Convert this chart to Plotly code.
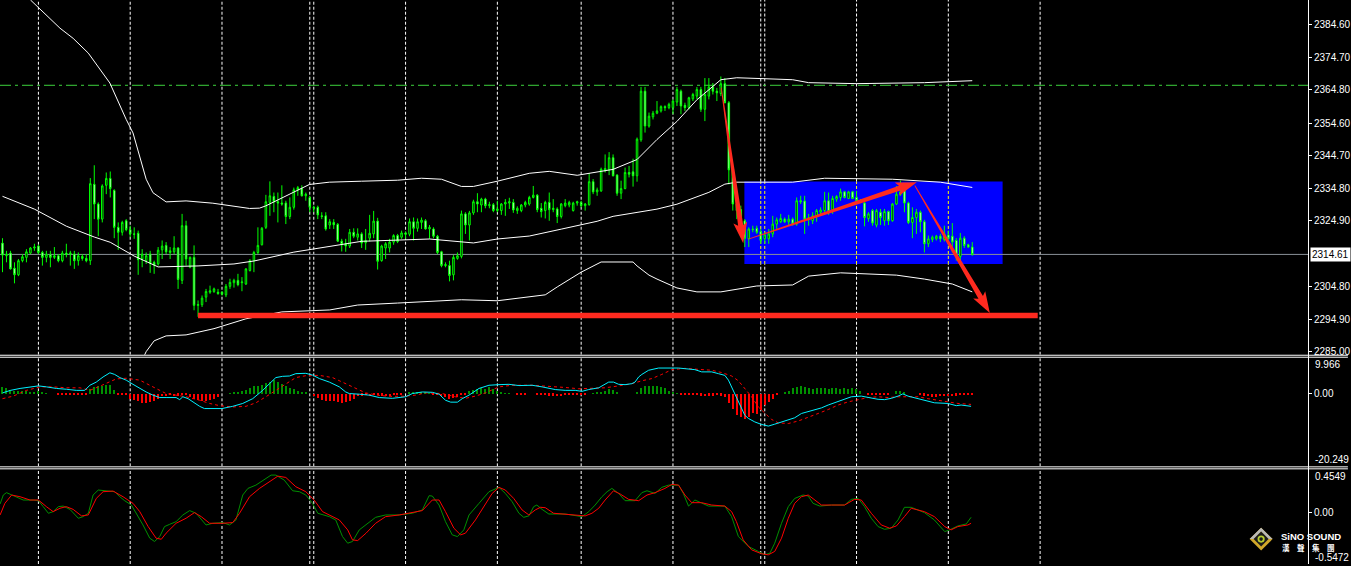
import math
import plotly.graph_objects as go

# ---------------- price candles (bar index = position) ----------------
opens = [
 2318.05, 2314.2, 2315.0, 2310.4, 2308.4, 2312.7, 2313.7, 2315.0, 2316.55, 2317.15,
 2315.2, 2313.7, 2314.5, 2313.7, 2314.2, 2312.7, 2315.0, 2314.7, 2314.7, 2312.7,
 2314.0, 2313.4, 2312.7, 2335.95, 2329.95, 2325.35, 2335.65, 2337.75, 2334.05, 2322.85,
 2321.35, 2324.85, 2322.15, 2320.85, 2321.05, 2313.2, 2312.7, 2314.7, 2312.2, 2311.7,
 2316.0, 2317.35, 2315.2, 2315.4, 2316.55, 2306.7, 2323.35, 2310.7, 2313.7, 2299.1,
 2299.3, 2301.6, 2303.1, 2303.3, 2303.1, 2303.1, 2302.3, 2304.9, 2306.0, 2306.7,
 2306.0, 2305.6, 2309.7, 2312.7, 2315.2, 2317.55, 2322.85, 2330.45, 2332.25, 2330.65,
 2330.25, 2330.25, 2326.15, 2328.95, 2334.25, 2334.65, 2332.45, 2331.95, 2328.95, 2328.95,
 2326.35, 2326.35, 2323.55, 2324.35, 2323.75, 2318.65, 2317.85, 2317.15, 2321.35, 2319.85,
 2320.85, 2318.15, 2319.55, 2320.85, 2324.75, 2312.7, 2316.55, 2316.55, 2318.35, 2320.35,
 2319.85, 2321.15, 2320.75, 2324.55, 2322.55, 2324.35, 2324.85, 2322.35, 2322.35, 2320.15,
 2315.4, 2311.2, 2311.2, 2308.4, 2313.4, 2314.0, 2326.95, 2323.55, 2327.25, 2330.65,
 2329.65, 2331.45, 2329.45, 2329.75, 2327.95, 2327.95, 2329.95, 2330.25, 2330.45, 2327.95,
 2327.95, 2329.65, 2329.95, 2331.95, 2332.65, 2328.65, 2327.95, 2330.45, 2328.25, 2328.45,
 2326.15, 2329.45, 2329.65, 2327.95, 2330.25, 2330.45, 2329.45, 2329.75, 2336.75, 2333.65,
 2333.95, 2340.05, 2340.35, 2344.05, 2338.75, 2333.25, 2334.65, 2339.55, 2339.75, 2338.55,
 2349.5, 2364.3, 2353.7, 2356.5, 2357.6, 2358.3, 2359.6, 2359.3, 2359.3, 2361.0,
 2364.3, 2360.0, 2359.3, 2362.0, 2362.8, 2364.8, 2358.8, 2362.8, 2365.6, 2364.3,
 2363.6, 2366.6, 2360.8, 2340.55, 2329.95, 2328.25, 2324.85, 2319.35, 2322.35, 2322.55,
 2321.55, 2319.35, 2319.35, 2320.85, 2323.85, 2324.55, 2325.35, 2324.55, 2325.35, 2323.85,
 2330.95, 2330.85, 2325.35, 2324.85, 2326.15, 2327.45, 2327.95, 2330.95, 2327.65, 2331.45,
 2331.95, 2333.65, 2331.65, 2333.65, 2331.95, 2330.95, 2330.25, 2325.55, 2327.95, 2323.55,
 2327.45, 2324.85, 2327.65, 2324.85, 2329.95, 2332.85, 2335.25, 2330.25, 2324.35, 2325.85,
 2327.45, 2324.55, 2317.85, 2319.15, 2319.35, 2320.15, 2319.15, 2320.55, 2320.15, 2318.85,
 2314.0, 2319.55, 2317.55, 2316.85]

highs = [
 2319.55, 2315.7, 2315.7, 2312.2, 2313.2, 2314.7, 2316.2, 2316.85, 2317.85, 2317.55,
 2315.7, 2315.7, 2315.7, 2316.85, 2314.7, 2315.7, 2317.85, 2315.7, 2315.7, 2315.2,
 2314.7, 2314.7, 2337.85, 2341.75, 2330.45, 2335.95, 2339.55, 2339.85, 2334.45, 2324.35,
 2324.85, 2325.35, 2323.35, 2322.85, 2321.85, 2316.2, 2315.2, 2315.7, 2312.7, 2316.85,
 2318.85, 2318.35, 2316.85, 2320.15, 2316.85, 2326.95, 2324.85, 2314.0, 2317.35, 2300.6,
 2302.1, 2304.1, 2305.1, 2304.5, 2304.1, 2303.4, 2305.6, 2307.2, 2307.2, 2308.7,
 2307.7, 2310.4, 2313.2, 2315.7, 2322.85, 2322.95, 2332.75, 2336.85, 2333.45, 2333.45,
 2335.65, 2330.95, 2331.95, 2334.95, 2335.45, 2335.65, 2333.45, 2332.45, 2329.45, 2329.45,
 2327.45, 2327.45, 2325.35, 2325.35, 2324.15, 2319.35, 2319.35, 2322.35, 2322.55, 2322.55,
 2321.35, 2322.35, 2326.65, 2327.85, 2325.75, 2317.55, 2318.35, 2319.35, 2320.75, 2320.85,
 2321.85, 2321.55, 2325.55, 2325.85, 2325.55, 2325.85, 2325.35, 2323.55, 2322.85, 2320.55,
 2315.7, 2312.2, 2312.7, 2314.4, 2315.2, 2327.95, 2327.45, 2327.85, 2331.25, 2333.25,
 2331.85, 2331.85, 2330.65, 2330.25, 2330.95, 2330.25, 2331.45, 2331.85, 2331.45, 2329.25,
 2329.95, 2330.95, 2332.45, 2335.45, 2332.95, 2330.25, 2330.95, 2333.45, 2331.45, 2328.95,
 2330.25, 2331.45, 2330.95, 2330.65, 2330.95, 2330.95, 2330.25, 2339.35, 2337.55, 2334.95,
 2341.05, 2345.05, 2345.75, 2345.05, 2339.05, 2337.05, 2341.05, 2341.55, 2343.75, 2350.2,
 2365.6, 2365.6, 2357.8, 2358.3, 2361.3, 2360.0, 2360.0, 2360.8, 2361.8, 2365.6,
 2364.8, 2360.8, 2362.6, 2363.8, 2365.6, 2365.6, 2368.3, 2368.3, 2366.8, 2365.3,
 2368.8, 2368.3, 2361.3, 2341.05, 2330.45, 2329.45, 2325.35, 2322.85, 2323.35, 2323.35,
 2322.35, 2321.35, 2322.35, 2326.35, 2325.85, 2326.95, 2325.85, 2326.65, 2325.85, 2331.95,
 2332.45, 2332.45, 2326.95, 2327.45, 2328.45, 2328.95, 2333.65, 2333.45, 2332.45, 2332.65,
 2334.65, 2333.95, 2333.95, 2333.95, 2333.95, 2331.45, 2330.95, 2327.45, 2328.45, 2328.45,
 2328.45, 2328.45, 2327.95, 2330.25, 2335.45, 2337.05, 2335.95, 2330.65, 2328.95, 2328.45,
 2327.95, 2325.15, 2320.35, 2320.35, 2320.55, 2320.85, 2323.35, 2321.85, 2324.15, 2319.55,
 2321.15, 2320.15, 2317.85, 2318.35]

lows = [
 2309.2, 2312.2, 2310.0, 2305.8, 2308.0, 2312.2, 2312.2, 2314.7, 2315.7, 2314.7,
 2311.2, 2312.2, 2310.7, 2313.2, 2312.2, 2312.2, 2313.7, 2311.2, 2310.2, 2311.2,
 2312.7, 2312.2, 2311.4, 2325.35, 2320.15, 2324.35, 2332.95, 2331.95, 2319.55, 2316.0,
 2320.35, 2321.65, 2319.85, 2319.35, 2308.4, 2310.7, 2311.7, 2309.0, 2308.7, 2311.2,
 2313.2, 2314.7, 2313.2, 2314.7, 2304.1, 2305.6, 2311.2, 2310.4, 2297.6, 2295.6,
 2298.6, 2300.1, 2302.6, 2302.9, 2302.3, 2302.1, 2301.6, 2304.1, 2304.5, 2304.9,
 2303.4, 2305.3, 2309.4, 2309.2, 2314.7, 2317.35, 2322.35, 2326.35, 2327.45, 2324.35,
 2329.45, 2323.85, 2325.35, 2328.25, 2332.45, 2332.25, 2330.95, 2327.45, 2327.45, 2325.35,
 2325.35, 2321.85, 2322.35, 2322.35, 2318.35, 2315.5, 2315.4, 2316.55, 2319.55, 2318.85,
 2316.55, 2316.0, 2318.55, 2319.55, 2310.0, 2312.4, 2313.2, 2315.2, 2317.55, 2318.05,
 2319.35, 2319.35, 2320.15, 2318.85, 2321.55, 2322.35, 2322.15, 2319.35, 2319.55, 2314.7,
 2310.7, 2310.7, 2306.4, 2306.7, 2313.0, 2313.4, 2320.85, 2318.85, 2326.65, 2327.45,
 2327.45, 2328.65, 2328.65, 2327.45, 2327.45, 2326.65, 2326.35, 2328.45, 2327.25, 2326.95,
 2327.45, 2328.95, 2329.45, 2331.65, 2327.45, 2325.85, 2325.55, 2324.85, 2327.45, 2324.15,
 2325.55, 2328.95, 2328.95, 2327.65, 2329.45, 2328.95, 2327.95, 2329.45, 2332.95, 2332.45,
 2333.65, 2339.55, 2338.75, 2338.35, 2332.45, 2331.45, 2334.45, 2338.05, 2335.25, 2336.75,
 2348.9, 2351.7, 2353.2, 2355.7, 2357.3, 2357.8, 2358.3, 2358.8, 2357.3, 2359.8,
 2357.3, 2358.3, 2358.8, 2361.3, 2361.8, 2358.0, 2355.2, 2361.8, 2363.3, 2361.3,
 2362.8, 2360.6, 2335.95, 2327.95, 2325.35, 2323.85, 2316.85, 2316.85, 2321.35, 2320.85,
 2317.85, 2317.85, 2317.85, 2319.85, 2322.35, 2324.15, 2324.15, 2323.35, 2323.35, 2323.35,
 2329.95, 2320.85, 2323.35, 2323.85, 2324.55, 2326.35, 2326.95, 2326.65, 2326.95, 2330.65,
 2330.95, 2331.65, 2331.45, 2331.45, 2330.45, 2330.25, 2323.15, 2324.55, 2323.35, 2322.85,
 2323.55, 2323.35, 2323.55, 2324.55, 2329.65, 2332.45, 2327.45, 2323.85, 2319.55, 2320.85,
 2321.35, 2315.2, 2316.85, 2318.35, 2318.85, 2318.35, 2318.55, 2317.35, 2315.2, 2312.7,
 2312.2, 2316.55, 2316.55, 2314.2]

closes = [
 2314.4, 2314.7, 2310.2, 2308.4, 2312.7, 2313.9, 2315.4, 2316.55, 2316.85, 2315.2,
 2313.7, 2314.7, 2313.7, 2314.2, 2312.7, 2315.0, 2314.6, 2315.0, 2312.7, 2314.2,
 2313.4, 2312.7, 2336.15, 2329.95, 2325.35, 2335.45, 2337.75, 2334.65, 2322.85, 2321.35,
 2324.35, 2322.15, 2320.85, 2320.75, 2313.0, 2314.7, 2314.2, 2312.0, 2311.4, 2315.9,
 2317.15, 2315.4, 2315.7, 2316.55, 2307.0, 2323.35, 2313.2, 2313.7, 2299.1, 2299.3,
 2301.3, 2303.3, 2303.5, 2304.1, 2302.7, 2302.5, 2304.9, 2306.1, 2306.7, 2305.4,
 2306.2, 2310.2, 2312.7, 2315.2, 2317.35, 2322.55, 2330.65, 2332.45, 2330.65, 2330.25,
 2329.95, 2326.15, 2328.95, 2334.25, 2334.95, 2332.45, 2332.95, 2328.95, 2328.65, 2326.65,
 2326.15, 2322.35, 2324.55, 2323.65, 2318.65, 2317.55, 2317.15, 2321.35, 2320.15, 2320.85,
 2318.05, 2318.85, 2321.05, 2324.75, 2312.5, 2317.15, 2317.85, 2318.35, 2320.35, 2318.55,
 2321.15, 2320.75, 2324.55, 2322.55, 2324.55, 2325.05, 2322.35, 2322.85, 2320.15, 2315.2,
 2311.2, 2311.5, 2308.2, 2313.7, 2314.2, 2326.95, 2323.55, 2327.25, 2330.65, 2329.95,
 2331.45, 2329.45, 2329.75, 2327.95, 2328.45, 2329.95, 2330.45, 2330.65, 2328.15, 2328.65,
 2329.65, 2330.45, 2331.95, 2332.65, 2328.25, 2327.65, 2330.45, 2328.25, 2328.65, 2326.15,
 2329.95, 2330.25, 2330.45, 2330.25, 2330.65, 2329.45, 2329.95, 2336.75, 2333.65, 2334.25,
 2340.55, 2340.75, 2344.05, 2338.55, 2333.25, 2334.65, 2339.55, 2339.05, 2338.55, 2349.7,
 2364.3, 2353.7, 2356.7, 2357.6, 2358.3, 2359.6, 2359.3, 2360.3, 2361.3, 2364.8,
 2359.8, 2359.3, 2362.3, 2363.3, 2364.8, 2358.8, 2363.3, 2365.6, 2364.3, 2363.8,
 2366.6, 2360.8, 2340.35, 2329.95, 2327.95, 2324.55, 2319.55, 2322.35, 2322.15, 2321.35,
 2318.85, 2320.55, 2320.85, 2323.85, 2325.15, 2325.55, 2324.55, 2325.35, 2323.85, 2330.95,
 2330.65, 2325.35, 2325.85, 2326.35, 2327.95, 2328.15, 2330.95, 2327.65, 2331.65, 2332.25,
 2333.65, 2331.95, 2333.65, 2331.65, 2330.95, 2330.45, 2325.85, 2326.95, 2324.15, 2327.95,
 2325.85, 2327.65, 2324.85, 2329.95, 2332.95, 2333.65, 2330.25, 2324.35, 2325.85, 2327.45,
 2324.55, 2317.85, 2319.35, 2319.85, 2320.15, 2319.35, 2320.85, 2319.35, 2318.35, 2314.2,
 2319.55, 2317.35, 2316.85, 2314.61]

bars = list(range(len(closes)))

# ---------------- Bollinger bands (read points) ----------------
bb_upper_x = [0, 7, 14.4, 17.7, 21.5, 24.4, 26.9, 31, 32.7, 36, 37.7, 41, 46, 52.7, 61.9, 64.4, 66,
              76.9, 81.9, 90, 99, 105, 110, 115, 118, 124, 132, 137, 144, 153, 159, 164, 169, 174,
              180, 184, 198, 202, 214, 231, 243]
bb_upper_y = [2400.6, 2392.1, 2383.5, 2380.4, 2375.9, 2370.8, 2366.8, 2355.7, 2351.6, 2337.5, 2333.4,
              2330.6, 2330.9, 2330.2, 2328.6, 2328.7, 2329.4, 2335.9, 2336.6, 2336.9, 2337.2, 2337.8,
              2337.5, 2335.3, 2335.3, 2336.9, 2339.3, 2339.9, 2338.7, 2340.5, 2343.5, 2349.6, 2355.1,
              2361.7, 2367.8, 2368.4, 2367.8, 2366.9, 2366.6, 2366.9, 2367.5]
bb_mid_x = [0, 8, 16, 23, 27, 33, 39, 49, 58, 63, 73, 82, 90, 107, 118, 124, 132, 140, 149, 153, 164,
            169, 177, 181, 184, 198, 206, 223, 235, 243]
bb_mid_y = [2332.3, 2328.4, 2323.2, 2319.9, 2318.3, 2314.1, 2310.8, 2311.1, 2311.7, 2312.6, 2315.3,
            2317.1, 2318.6, 2319.3, 2318.1, 2319.3, 2320.2, 2322.3, 2324.7, 2326.2, 2328.4, 2329.9,
            2333.5, 2336.0, 2336.6, 2336.6, 2337.8, 2337.5, 2336.6, 2335.0]
bb_lower_x = [0, 22, 32, 34, 36, 38, 41, 46, 53, 61, 70, 82, 89, 99, 112, 115, 124, 134, 136, 139, 145,
              150, 158, 159, 162, 164, 169, 174, 180, 189, 198, 202, 210, 224, 231, 238, 243]
bb_lower_y = [2264.0, 2265.8, 2274.7, 2279.8, 2285.0, 2288.3, 2289.8, 2290.1, 2292.0, 2295.0, 2297.1,
              2297.7, 2299.2, 2299.8, 2300.5, 2300.8, 2300.5, 2302.0, 2302.3, 2304.7, 2309.2, 2312.3,
              2312.3, 2311.1, 2308.3, 2307.1, 2304.4, 2303.2, 2303.2, 2305.0, 2305.3, 2308.0, 2309.0,
              2308.3, 2307.1, 2305.6, 2303.2]

price_ticks = [2384.60, 2374.70, 2364.80, 2354.60, 2344.70, 2334.80, 2324.90, 2304.80, 2294.90, 2285.00]
bid_price = 2314.61
alert_level = 2366.1
support_level = 2296.0

# ---------------- MACD panel (window spans its min..max) ----------------
macd_max, macd_min = 9.966, -20.249
macd_hist = [
 1.86, 1.69, 1.11, 0.89, 0.71, 0.89, 0.71, 0.62, 0.53, 0.71, 0.27, 0.18,
 0.0, 0.0,
 -0.18, -0.18, -0.18, -0.18, -0.18, -0.18, -0.18, -0.18,
 1.42, 1.86, 2.13, 2.31, 2.57, 2.48, 1.11,
 -0.09, -0.09, -0.18,
 -1.42, -1.69, -2.13, -2.57, -2.48, -2.31, -2.04, -1.42, -0.71, -0.62, -0.44, -0.71, -0.53, -0.27,
 -0.44, -0.89, -1.42, -1.69, -1.86, -1.86, -1.69, -1.42, -0.89,
 0.0, 0.0,
 0.18, 0.27, 0.44, 0.71, 1.2, 1.69, 2.04, 2.31, 2.57, 2.93, 3.41, 3.73, 3.41, 2.75, 2.22, 1.6, 1.33,
 0.89, 0.62, 0.44,
 0.0,
 -0.71, -1.2, -1.6, -1.86, -2.04, -2.13, -2.31, -2.48, -2.31, -1.86, -1.42, -0.71, -0.53, -0.27,
 -0.62, -0.44, -0.27, -0.53, -0.71, -0.62, -0.44, -0.27, -0.18,
 0.0,
 0.44, 0.53, 0.44, 0.62, 0.35, 0.18,
 -0.18, -0.27, -0.71, -0.89, -1.42, -1.2, -0.89, -0.44, -0.18,
 0.89, 1.2, 1.42, 1.6, 1.42, 1.86, 1.42, 0.71,
 0.27, 0.18, 0.09,
 0.0,
 -0.09, -0.09, -0.09,
 0.0, 0.0,
 -0.27, -0.35, -0.44, -0.53, -0.53, -0.71, -0.62, -0.44, -0.35, -0.44, -0.27, -0.18, -0.09,
 0.0,
 0.18, 0.35, 0.62, 0.89, 1.33, 1.11, 0.35,
 0.0, 0.0, 0.0, 0.0,
 0.44, 1.6, 2.04, 2.22, 2.22, 2.04, 1.86, 1.51, 0.89, 0.44, 0.18,
 -0.09, -0.09, -0.18, -0.27, -0.35, -0.53, -0.62, -0.53, -0.53, -0.44, -0.53, -0.89,
 -2.57, -4.17, -5.77, -6.48, -6.92, -6.48, -5.32, -5.54, -4.44, -3.19, -2.31, -1.42, -0.18,
 0.0,
 0.62, 0.89, 1.6, 1.95, 2.04, 1.86, 1.69, 1.42, 1.51, 1.6, 1.51, 1.42, 1.51, 1.51, 1.42, 1.51, 1.42,
 1.51, 1.33, 0.71,
 0.0,
 -0.09, -0.09, -0.09, -0.09, -0.09, -0.09,
 0.0,
 0.71, 0.89, 0.53,
 0.0, 0.0, 0.0,
 -0.35, -0.53, -0.71, -0.89, -0.89, -0.71, -0.62, -0.71, -0.62, -0.53, -0.18, -0.09, -0.09, -0.09]

macd_main_x = [0, 2, 4.4, 6.9, 9, 11, 13.5, 16, 18.5, 20.6, 21.2, 21.9, 23.5, 25.2, 26.9, 28.1, 29.4, 31,
               32.7, 34.4, 36, 37.7, 39.4, 41, 43.5, 44.4, 45.2, 46.5, 47.7, 49.4, 50.6, 52.7, 55, 57.7,
               60.2, 62.7, 65.2, 66.9, 68.5, 70.2, 71.9, 73.5, 76, 77.7, 79.4, 81.9, 84.4, 86, 86.9, 89.4,
               91.9, 94.4, 97.7, 101, 102.7, 105.2, 107.7, 109.4, 111, 112.3, 114, 115.2, 116.9, 119.4,
               121.9, 124.4, 126.9, 129.4, 132.7, 135.2, 138.5, 141, 143.5, 145.2, 146.9, 149.4, 151,
               151.9, 153.1, 154.4, 156, 157.7, 158.5, 159.4, 160.2, 161.9, 164.4, 167.7, 169.4, 171,
               173.5, 175.2, 177.7, 179.4, 181, 181.9, 182.7, 183.5, 184.4, 185.2, 186, 186.9, 188.5,
               190.2, 191.9, 193.5, 195.2, 196.9, 198.5, 200.2, 202.7, 205.2, 206.9, 208.5, 211, 212.7,
               215.2, 216.9, 219.4, 221, 222.7, 224.4, 225.6, 226.9, 229.4, 231.9, 233.5, 236.9, 239,
               240.2, 242.7]
macd_main_y = [0.18, 0.89, 1.42, 1.86, 2.13, 1.86, 1.42, 1.2, 0.89, 0.89, 1.51, 2.31, 3.19, 4.61, 5.77,
               5.32, 4.44, 3.73, 2.57, 1.42, 0.44, -0.44, -1.11, -1.11, -1.11, -1.69, -0.89, -1.42, -2.31,
               -3.55, -4.17, -4.26, -4.17, -3.55, -2.75, -1.42, 0.89, 2.75, 4.44, 4.79, 4.88, 5.54, 5.63,
               5.14, 4.17, 3.19, 1.86, 0.44, 0.0, -0.18, -0.44, -1.11, -1.33, -0.89, 0.0, 0.44, 0.35,
               -0.18, -1.86, -2.39, -2.39, -1.42, -0.44, 1.42, 2.31, 2.48, 2.57, 2.22, 2.31, 1.86, 1.11,
               0.89, 0.89, 0.62, 1.11, 1.6, 2.75, 3.19, 3.19, 2.57, 2.48, 2.75, 3.19, 4.61, 5.32, 6.48,
               7.1, 7.18, 7.1, 6.92, 6.65, 6.03, 6.03, 5.54, 5.06, 3.73, 1.86, 0.0, -1.86, -4.17, -6.03,
               -6.92, -7.89, -8.6, -9.05, -8.52, -7.89, -7.18, -6.74, -5.54, -4.79, -3.99, -3.19, -2.57,
               -1.6, -0.89, -0.71, -1.11, -1.6, -1.69, -1.33, -0.71, -0.09, -0.71, -1.42, -2.13, -2.57,
               -2.75, -3.37, -3.19, -3.55]
macd_signal_x = [0, 2.7, 6, 9.4, 12.7, 16, 19.4, 21.9, 24.4, 26.9, 28.5, 31, 34.4, 36.9, 38.5, 41, 43.5,
                 46, 49.4, 51.9, 54.4, 57.7, 61, 63.5, 66, 68.5, 71, 73.5, 76, 79.4, 82.7, 86, 88.5, 91,
                 94.4, 97.7, 101, 103.5, 106, 107.7, 110.2, 113.5, 116, 118.5, 121, 124.4, 127.7, 132.7,
                 136.9, 141, 144.4, 147.7, 151, 154.4, 157.7, 160.2, 162.7, 165.2, 167.7, 171, 174.4,
                 177.7, 180.2, 182.7, 184.4, 186, 187.7, 189.4, 191, 192.7, 194.4, 196.9, 199.4, 201.9,
                 204.4, 206.9, 209.4, 211.9, 214.4, 216.9, 219.4, 221.9, 224.4, 226.9, 229.4, 231.9,
                 234.4, 236.9, 239.4, 242.7]
macd_signal_y = [-1.42, -0.71, 0.89, 1.86, 1.86, 1.6, 1.6, 0.89, 2.04, 3.37, 4.08, 4.26, 3.73, 2.31, 1.42,
                 0.0, -0.44, -0.89, -1.86, -2.75, -3.37, -3.73, -3.55, -2.57, -0.89, 0.89, 2.75, 4.44,
                 4.97, 5.06, 4.44, 2.75, 1.42, 0.18, -0.53, -0.8, -0.71, -0.44, 0.18, 0.18, 0.0, -0.89,
                 -1.33, -0.71, 0.18, 1.86, 2.31, 2.31, 2.04, 1.69, 1.33, 1.42, 1.6, 2.13, 2.75, 3.55, 4.17,
                 5.32, 6.65, 7.01, 6.83, 6.48, 5.85, 4.88, 3.55, 1.42, -0.89, -3.73, -5.54, -7.18, -8.16,
                 -8.34, -7.63, -6.65, -5.54, -4.44, -3.19, -2.31, -1.69, -1.11, -0.89, -1.11, -0.89, -0.89,
                 -0.89, -1.42, -1.86, -2.31, -2.75, -3.02]

# ---------------- RVI panel (window spans its min..max) ----------------
rvi_max, rvi_min = 0.4549, -0.5472
rvi_main_x = [-0.6, 0.2, 1, 1.9, 3.5, 5.2, 7.7, 9, 10.2, 11.5, 12.7, 14, 15.2, 16.9, 19, 20.2, 21.5, 22.7,
              24, 26, 28.1, 29.4, 30.6, 32.3, 33.5, 35.2, 36.9, 38.1, 39.4, 40.6, 41.9, 43.5, 45.2, 46.9,
              48.5, 51, 52.7, 55.2, 56.9, 58.5, 60.2, 61.5, 63.5, 66, 67.3, 68.5, 70.6, 72.7, 74.4, 76,
              77.7, 79, 80.2, 81.9, 83.5, 85.2, 86.5, 87.7, 89.4, 91.1, 93.5, 96, 99.4, 102.7, 105.2,
              106.9, 107.7, 109.4, 111, 112.7, 114, 115.6, 116.9, 119.4, 121.9, 124.4, 126, 127.7, 129.4,
              130.6, 131.9, 133.1, 133.9, 135.2, 136.9, 141, 143.5, 145.2, 146.9, 148.5, 150.2, 151.5,
              152.7, 154.4, 156, 158.5, 160.2, 161.5, 163.5, 165.2, 166.9, 169.4, 170.6, 171.9, 173.5,
              175.2, 176.9, 181, 182.7, 184.4, 186.9, 189.4, 191, 192.3, 193.5, 195.2, 196.9, 198.5,
              200.6, 201.9, 203.1, 204.8, 207.7, 211, 212.7, 214.4, 216, 217.7, 219.4, 221, 222.7, 224.4,
              226, 227.7, 231, 233.5, 236.1, 237.3, 239.4, 241.5, 242.7]
rvi_main_y = [0.088, 0.183, 0.208, 0.193, 0.165, 0.130, 0.130, 0.123, 0.060, -0.010, 0.007, 0.060, 0.066,
              0.031, -0.063, -0.046, -0.010, 0.183, 0.236, 0.228, 0.218, 0.165, 0.123, 0.077, -0.010,
              -0.134, -0.274, -0.309, -0.257, -0.151, -0.127, -0.099, -0.028, 0.018, -0.010, -0.134,
              -0.116, -0.109, -0.134, -0.081, 0.183, 0.253, 0.288, 0.358, 0.394, 0.394, 0.341, 0.228,
              0.218, 0.183, 0.095, -0.010, -0.028, -0.046, -0.081, -0.257, -0.327, -0.309, -0.186,
              -0.134, -0.053, -0.028, -0.028, -0.010, 0.025, 0.176, 0.172, 0.077, -0.099, -0.239,
              -0.257, -0.186, -0.028, 0.095, 0.218, 0.264, 0.200, 0.112, -0.010, -0.053, -0.038, 0.060,
              0.077, 0.031, -0.018, -0.018, -0.038, -0.046, 0.007, 0.077, 0.165, 0.218, 0.253, 0.200,
              0.123, 0.123, 0.208, 0.228, 0.200, 0.264, 0.288, 0.288, 0.200, 0.066, 0.130, 0.095, 0.066,
              0.066, -0.046, -0.257, -0.362, -0.414, -0.450, -0.432, -0.327, -0.116, 0.060, 0.147, 0.183,
              0.172, 0.095, 0.066, 0.077, 0.077, 0.137, 0.147, 0.060, -0.063, -0.151, -0.180, -0.168,
              -0.081, 0.053, 0.053, -0.003, -0.081, -0.204, -0.186, -0.144, -0.123, -0.053]
rvi_signal_x = [-0.6, 0.6, 2.3, 4.4, 6.9, 9, 11, 12.7, 14.4, 16, 17.7, 19.8, 21.5, 23.5, 25.2, 27.7, 30.2,
                32.7, 34.4, 36.5, 38.5, 39.8, 41, 43.5, 46, 48.1, 49.8, 51.9, 55.2, 57.7, 59.4, 61.9, 64.4,
                66.9, 69, 71, 73.5, 76, 78.1, 80.2, 81.9, 84.4, 86.5, 87.7, 89, 91.1, 93.5, 96, 99.4,
                102.7, 105.2, 107.7, 109.4, 111, 113.1, 114.8, 116, 118.5, 121, 122.7, 124.4, 126, 128.1,
                130.2, 131.9, 133.5, 134.8, 136, 138.1, 141, 144.4, 146, 147.7, 149.4, 151, 153.1, 154.8,
                156.9, 159.4, 161.5, 163.5, 166, 167.7, 169.4, 171, 172.7, 175.2, 177.7, 181, 182.7,
                183.9, 185.6, 187.7, 190.2, 191.9, 193.5, 195.2, 196.9, 198.5, 200.2, 201.9, 203.5,
                205.2, 207.7, 211, 213.5, 215.2, 217.7, 220.2, 222.3, 224, 226, 227.7, 231, 233.5, 236.1,
                237.7, 239.4, 241.9, 242.7]
rvi_signal_y = [-0.028, 0.095, 0.183, 0.165, 0.130, 0.130, 0.060, 0.007, 0.043, 0.060, 0.031, -0.038,
                -0.028, 0.147, 0.218, 0.225, 0.165, 0.095, 0.007, -0.151, -0.274, -0.285, -0.221, -0.116,
                -0.063, -0.003, -0.046, -0.116, -0.116, -0.109, -0.010, 0.165, 0.253, 0.323, 0.383,
                0.369, 0.271, 0.218, 0.130, 0.007, -0.028, -0.081, -0.186, -0.292, -0.299, -0.221,
                -0.116, -0.046, -0.028, -0.003, 0.018, 0.130, 0.130, 0.007, -0.168, -0.239, -0.221,
                -0.081, 0.095, 0.200, 0.264, 0.236, 0.147, 0.025, -0.028, 0.025, 0.053, 0.049, -0.010,
                -0.018, -0.028, -0.038, -0.010, 0.043, 0.130, 0.228, 0.193, 0.137, 0.123, 0.183, 0.208,
                0.253, 0.295, 0.288, 0.183, 0.102, 0.102, 0.077, 0.066, 0.007, -0.099, -0.292, -0.397,
                -0.439, -0.450, -0.414, -0.274, -0.063, 0.095, 0.165, 0.183, 0.130, 0.077, 0.077, 0.077,
                0.137, 0.130, -0.010, -0.134, -0.168, -0.144, -0.046, 0.043, 0.007, -0.046, -0.151,
                -0.186, -0.151, -0.134, -0.116]

# time separators (bar positions of the vertical dotted grid)
grid_bars = [9, 32, 55, 77, 78, 101, 124, 145, 168, 190, 191, 214, 237, 260]

# ---------------- layout geometry ----------------
FIG_W, FIG_H, R_MARGIN = 1351, 566, 40
PLOT_W = FIG_W - R_MARGIN
X_RANGE = [-0.625, 327.125]
Y1_RANGE = [2284.06, 2392.07]
Y2_RANGE = [macd_min, macd_max]
Y3_RANGE = [rvi_min, rvi_max]
MAIN_BOTTOM, MACD_TOP, MACD_BOTTOM, RVI_TOP = 356, 359, 468, 471
D1 = [1 - MAIN_BOTTOM / FIG_H, 1]
D2 = [1 - MACD_BOTTOM / FIG_H, 1 - MACD_TOP / FIG_H]
D3 = [0, 1 - RVI_TOP / FIG_H]

PX_PER_BAR = PLOT_W / (X_RANGE[1] - X_RANGE[0])
PX_PER_PRICE = MAIN_BOTTOM / (Y1_RANGE[1] - Y1_RANGE[0])


def to_px(b, p):
    return ((b - X_RANGE[0]) * PX_PER_BAR, (Y1_RANGE[1] - p) * PX_PER_PRICE)


def to_data(x, y):
    return (x / PX_PER_BAR + X_RANGE[0], Y1_RANGE[1] - y / PX_PER_PRICE)


def pp(x, y):
    """pixel -> paper"""
    return x / PLOT_W, 1 - y / FIG_H


def arrow_path(tail, tip, head_len=18, head_half=7.0, w0=0.4, w1=2.6):
    tx, ty = to_px(*tail)
    hx, hy = to_px(*tip)
    dx, dy = hx - tx, hy - ty
    L = math.hypot(dx, dy)
    ux, uy = dx / L, dy / L
    nx, ny = -uy, ux
    bx, by = hx - ux * head_len, hy - uy * head_len
    pts = [(tx + nx * w0, ty + ny * w0), (bx + nx * w1, by + ny * w1),
           (bx + nx * head_half - ux * 3, by + ny * head_half - uy * 3), (hx, hy),
           (bx - nx * head_half - ux * 3, by - ny * head_half - uy * 3),
           (bx - nx * w1, by - ny * w1), (tx - nx * w0, ty - ny * w0)]
    dpts = [to_data(*q) for q in pts]
    return "M " + " L ".join(f"{a:.4f},{b:.4f}" for a, b in dpts) + " Z"


RED = "#ff2a1f"
fig = go.Figure()

# bands
for xs, ys in [(bb_upper_x, bb_upper_y), (bb_mid_x, bb_mid_y), (bb_lower_x, bb_lower_y)]:
    fig.add_trace(go.Scatter(x=xs, y=ys, mode="lines", line=dict(color="white", width=1),
                             xaxis="x", yaxis="y", hoverinfo="skip"))

fig.add_trace(go.Candlestick(
    x=bars, open=opens, high=highs, low=lows, close=closes, whiskerwidth=0,
    increasing=dict(line=dict(color="#00ff00", width=1), fillcolor="#000000"),
    decreasing=dict(line=dict(color="#00ff00", width=1), fillcolor="#ffffff"),
    xaxis="x", yaxis="y", hoverinfo="skip"))

# MACD
fig.add_trace(go.Bar(x=bars, y=macd_hist, width=0.3,
                     marker=dict(color=["#009000" if v >= 0 else "#ff0000" for v in macd_hist],
                                 line=dict(width=0)),
                     xaxis="x2", yaxis="y2", hoverinfo="skip"))
fig.add_trace(go.Scatter(x=macd_signal_x, y=macd_signal_y, mode="lines",
                         line=dict(color="#ff0000", width=1, dash="3px,3px"),
                         xaxis="x2", yaxis="y2", hoverinfo="skip"))
fig.add_trace(go.Scatter(x=macd_main_x, y=macd_main_y, mode="lines",
                         line=dict(color="#00f0ff", width=1), xaxis="x2", yaxis="y2", hoverinfo="skip"))

# RVI
fig.add_trace(go.Scatter(x=rvi_main_x, y=rvi_main_y, mode="lines", line=dict(color="#009000", width=1),
                         xaxis="x3", yaxis="y3", hoverinfo="skip"))
fig.add_trace(go.Scatter(x=rvi_signal_x, y=rvi_signal_y, mode="lines", line=dict(color="#ff0000", width=1),
                         xaxis="x3", yaxis="y3", hoverinfo="skip"))

shapes = []
# blue range box
BOX = dict(x0=185.9, x1=250.6, y0=2311.7, y1=2336.8)
shapes.append(dict(type="rect", xref="x", yref="y", layer="below", line=dict(width=0),
                   fillcolor="#0000ff", **BOX))
GRID_DASH = "3px,2px"
for g in grid_bars:
    for yr, rng in (("y", Y1_RANGE), ("y2", Y2_RANGE), ("y3", Y3_RANGE)):
        xr = "x" if yr == "y" else "x" + yr[1:]
        if yr == "y" and BOX["x0"] < g < BOX["x1"]:
            segs = [(rng[0], BOX["y0"], "white"), (BOX["y0"], BOX["y1"], "#ffff00"),
                    (BOX["y1"], rng[1], "white")]
        else:
            segs = [(rng[0], rng[1], "white")]
        for a, b, c in segs:
            shapes.append(dict(type="line", xref=xr, yref=yr, layer="below", x0=g, x1=g, y0=a, y1=b,
                               line=dict(color=c, width=1, dash=GRID_DASH)))
# bid line and alert line
shapes.append(dict(type="line", xref="x", yref="y", layer="below", x0=X_RANGE[0], x1=X_RANGE[1],
                   y0=bid_price, y1=bid_price, line=dict(color="#8a9098", width=1)))
shapes.append(dict(type="line", xref="x", yref="y", layer="below", x0=X_RANGE[0], x1=X_RANGE[1],
                   y0=alert_level, y1=alert_level,
                   line=dict(color="#3cd23c", width=1, dash="11px,4px,3px,4px")))
# support line
shapes.append(dict(type="line", xref="x", yref="y", layer="above", x0=49, x1=259.4,
                   y0=support_level, y1=support_level, line=dict(color=RED, width=5.5)))
# arrows
arrows = [((180.1, 2365.4), (185.6, 2318.0)),
          ((186.9, 2319.25), (229.1, 2336.55)),
          ((228.6, 2335.6), (247.4, 2296.8))]
for tail, tip in arrows:
    shapes.append(dict(type="path", xref="x", yref="y", layer="above", path=arrow_path(tail, tip),
                       fillcolor=RED, line=dict(width=0)))

# panel borders and price-scale line
for yy in (356.5, 358.5, 468.5, 470.5):
    a = pp(0, yy); b = pp(FIG_W, yy)
    shapes.append(dict(type="line", xref="paper", yref="paper", layer="above", x0=a[0], x1=b[0],
                       y0=a[1], y1=b[1], line=dict(color="white", width=1)))
a = pp(1311.5, 0); b = pp(1311.5, FIG_H)
shapes.append(dict(type="line", xref="paper", yref="paper", layer="above", x0=a[0], x1=b[0],
                   y0=a[1], y1=b[1], line=dict(color="white", width=1)))

# logo
cx, cy, s = 1264, 541, 11.5


def poly(pts, color):
    d = "M " + " L ".join("{:.5f},{:.5f}".format(*pp(x, y)) for x, y in pts) + " Z"
    return dict(type="path", xref="paper", yref="paper", layer="above", path=d, fillcolor=color,
                line=dict(width=0))


shapes.append(poly([(cx, cy - s), (cx + s, cy), (cx, cy + s), (cx - s, cy)], "#d1a82a"))
shapes.append(poly([(cx - s, cy), (cx, cy - s), (cx + s, cy), (cx + s - 4, cy), (cx, cy - s + 4),
                    (cx - s + 4, cy)], "#b8b8b8"))
shapes.append(poly([(cx, cy - s + 4), (cx + s - 4, cy), (cx, cy + s - 4), (cx - s + 4, cy)], "#1a1a1a"))
for r, col in ((3.6, "#b6cc2e"), (1.8, "#1a1a1a")):
    a = pp(cx - r, cy - r); b = pp(cx + r, cy + r)
    shapes.append(dict(type="circle", xref="paper", yref="paper", layer="above", x0=a[0], x1=b[0],
                       y0=b[1], y1=a[1], fillcolor=col, line=dict(width=0)))

tickfont = dict(family="Liberation Sans, Arial, sans-serif", size=10, color="#ffffff")


def side_label(text, ypx):
    return dict(xref="paper", yref="paper", x=pp(1316, 0)[0], y=pp(0, ypx)[1], xanchor="left",
                yanchor="middle", text=text, showarrow=False, font=tickfont)


annotations = [
    dict(xref="paper", yref="y", x=1313 / PLOT_W, y=bid_price, xanchor="left", yanchor="middle",
         text="2314.61", showarrow=False, bgcolor="#ffffff", borderpad=1,
         font=dict(family="Liberation Sans, Arial, sans-serif", size=10, color="#000000")),
    side_label(f"{macd_max:.3f}", 366), side_label(f"{macd_min:.3f}", 461),
    side_label(f"{rvi_max:.4f}", 478), side_label(f"{rvi_min:.4f}", 559),
    dict(xref="paper", yref="paper", x=pp(1282, 0)[0], y=pp(0, 538)[1], xanchor="left",
         yanchor="middle", text="<b>SiNO SOUND</b>", showarrow=False,
         font=dict(family="Liberation Sans, Arial, sans-serif", size=9.5, color="#ffffff")),
    dict(xref="paper", yref="paper", x=pp(1283, 0)[0], y=pp(0, 549)[1], xanchor="left",
         yanchor="middle", text="<b>漢\u3000聲\u3000集\u3000團</b>", showarrow=False,
         font=dict(family="Noto Sans CJK TC, sans-serif", size=7.5, color="#ffffff")),
]

xa = dict(range=X_RANGE, domain=[0, 1], showgrid=False, zeroline=False, showticklabels=False,
          ticks="", showline=False, fixedrange=True)
ya = dict(side="right", showgrid=False, zeroline=False, ticks="outside", ticklen=3, tickcolor="#ffffff",
          tickwidth=1, tickfont=tickfont, showline=False, fixedrange=True)

fig.update_layout(
    width=FIG_W, height=FIG_H, margin=dict(l=0, r=R_MARGIN, t=0, b=0, pad=0),
    paper_bgcolor="#000000", plot_bgcolor="#000000", showlegend=False, boxgap=0.45,
    bargap=0, hovermode=False,
    xaxis=dict(**xa, anchor="y", rangeslider=dict(visible=False)),
    xaxis2=dict(**xa, anchor="y2"),
    xaxis3=dict(**xa, anchor="y3"),
    yaxis=dict(**ya, anchor="x", domain=D1, range=Y1_RANGE, tickvals=price_ticks,
               ticktext=[f"{v:.2f}" for v in price_ticks]),
    yaxis2=dict(**ya, anchor="x2", domain=D2, range=Y2_RANGE, tickvals=[0.0], ticktext=["0.00"]),
    yaxis3=dict(**ya, anchor="x3", domain=D3, range=Y3_RANGE, tickvals=[0.0], ticktext=["0.00"]),
    shapes=shapes, annotations=annotations,
)

fig.write_html("out.html", config={"displayModeBar": False},
               post_script="document.body.style.margin='0';document.body.style.overflow='hidden';")
